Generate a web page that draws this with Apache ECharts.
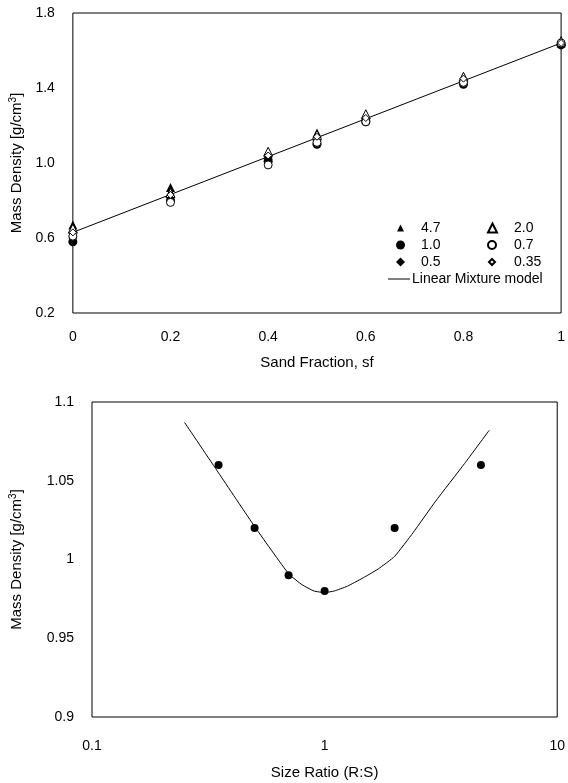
<!DOCTYPE html>
<html><head><meta charset="utf-8">
<script src="https://cdn.jsdelivr.net/npm/echarts@6/dist/echarts.min.js"></script>
<style>html,body{margin:0;padding:0;background:#fff}#c{width:568px;height:783px}</style>
</head><body><div id="c"></div>
<script>
// ---- Top chart data ----
const sandFraction = [0, 0.2, 0.4, 0.5, 0.6, 0.8, 1];
const ratio47  = [0.67, 0.87, 1.05, 1.16, 1.25, 1.44, 1.64];
const ratio10  = [0.58, 0.80, 1.01, 1.10, 1.22, 1.42, 1.63];
const ratio05  = [0.60, 0.82, 1.02, 1.12, 1.23, 1.43, 1.64];
const ratio20  = [0.65, 0.84, 1.06, 1.15, 1.26, 1.46, 1.65];
const ratio07  = [0.61, 0.79, 0.99, 1.11, 1.22, 1.43, 1.64];
const ratio035 = [0.63, 0.83, 1.04, 1.14, 1.24, 1.45, 1.64];
const seriesNames = ['4.7', '1.0', '0.5', '2.0', '0.7', '0.35'];
const modelName = 'Linear Mixture model';
const modelSf = [0, 1];
const modelDensity = [0.63, 1.64];
// ---- Bottom chart data ----
const sizeRatio   = [0.35, 0.5, 0.7, 1.0, 2.0, 4.7];
const sizeDensity = [1.06, 1.02, 0.99, 0.98, 1.02, 1.06];
const curveRatio   = [0.25, 0.35, 0.5, 0.7, 0.8, 0.9, 1.0, 1.1, 1.25, 1.45, 1.7, 2.0, 2.4, 3.0, 4.0, 5.1];
const curveDensity = [1.087, 1.055, 1.021, 0.991, 0.984, 0.980, 0.979, 0.980, 0.983, 0.988, 0.994, 1.002, 1.017, 1.037, 1.061, 1.082];

const FONT = "'Liberation Sans', Arial, sans-serif";
const pair = (xs, ys) => xs.map((x, i) => [x, ys[i]]);
const topData = [ratio47, ratio10, ratio05, ratio20, ratio07, ratio035];
const symbols = ['triangle', 'circle', 'diamond', 'triangle', 'circle', 'diamond'];
const filled = [true, true, true, false, false, false];
const sizes = [9, 9, 9, 9, 8, 7];
const legendSizes = [7, 9, 9, 9, 8, 6];

const chart = echarts.init(document.getElementById('c'));

const series = [];
topData.forEach((d, i) => {
  series.push({
    type: 'scatter', name: seriesNames[i], xAxisIndex: 0, yAxisIndex: 0,
    symbol: symbols[i], symbolSize: sizes[i],
    itemStyle: filled[i] ? { color: '#000', opacity: 1 } : { color: '#fff', borderColor: '#000', borderWidth: 1, opacity: 1 },
    data: pair(sandFraction, d), z: filled[i] ? 3 : 4
  });
});
series.push({
  type: 'line', name: modelName, xAxisIndex: 0, yAxisIndex: 0, symbol: 'none',
  lineStyle: { color: '#000', width: 1 }, data: pair(modelSf, modelDensity), z: 2
});
series.push({
  type: 'line', name: 'curve', xAxisIndex: 1, yAxisIndex: 1, symbol: 'none', smooth: 0.15,
  lineStyle: { color: '#000', width: 1 }, data: pair(curveRatio, curveDensity), z: 2
});
series.push({
  type: 'scatter', name: 'points', xAxisIndex: 1, yAxisIndex: 1, symbol: 'circle', symbolSize: 8,
  itemStyle: { color: '#000', opacity: 1 }, data: pair(sizeRatio, sizeDensity), z: 3
});

// legends
const legendCenters = [[400, 229], [400, 246], [400, 263], [491, 229], [491, 246], [491, 263]];
const legends = seriesNames.map((n, i) => {
  const s = legendSizes[i];
  const cx = legendCenters[i][0], cy = legendCenters[i][1];
  const textX = cx < 450 ? 421 : 513;
  const left = Math.round(cx - s / 2);
  return {
    data: [n], left: left, top: cy - 8,
    itemWidth: s, itemHeight: s, itemGap: 0, padding: 0,
    selectedMode: false,
    textStyle: { fontFamily: FONT, fontSize: 14, color: '#000', padding: [0, 0, 0, textX - (left + s + 5)] }
  };
});
legends.push({
  data: [{ name: modelName, icon: 'rect' }], left: 388, top: 272, itemWidth: 22, itemHeight: 1, padding: 0,
  selectedMode: false, itemStyle: { color: '#000' },
  textStyle: { fontFamily: FONT, fontSize: 14, color: '#000', padding: [0, 0, 0, -3] }
});

const yName = '{a|Mass Density [g/cm}{s|3}{a|]}';
const nameRich = { a: { fontSize: 15, fontFamily: FONT, color: '#000', lineHeight: 18 },
                   s: { fontSize: 10, fontFamily: FONT, color: '#000', verticalAlign: 'top', lineHeight: 18 } };
const lbl = { fontFamily: FONT, fontSize: 14, color: '#000' };

chart.setOption({
  animation: false,
  backgroundColor: '#fff',
  grid: [
    { left: 71, top: 13, width: 494, height: 300, show: true, borderColor: '#000', borderWidth: 1 },
    { left: 92, top: 402, width: 472, height: 315, show: true, borderColor: '#000', borderWidth: 1 }
  ],
  legend: legends,
  xAxis: [
    { type: 'value', gridIndex: 0, min: 0, max: 1, interval: 0.2,
      name: 'Sand Fraction, sf', nameLocation: 'middle', nameGap: 42,
      nameTextStyle: { fontFamily: FONT, fontSize: 15, color: '#000' },
      axisLine: { show: false }, axisTick: { show: false }, splitLine: { show: false },
      axisLabel: Object.assign({ margin: 17, formatter: v => String(parseFloat(v.toFixed(2))) }, lbl) },
    { type: 'log', gridIndex: 1, min: 0.1, max: 10, logBase: 10,
      name: 'Size Ratio (R:S)', nameLocation: 'middle', nameGap: 48,
      nameTextStyle: { fontFamily: FONT, fontSize: 15, color: '#000' },
      axisLine: { show: false }, axisTick: { show: false }, splitLine: { show: false }, minorTick: { show: false },
      axisLabel: Object.assign({ margin: 22, formatter: v => String(parseFloat(v.toFixed(2))) }, lbl) }
  ],
  yAxis: [
    { type: 'value', gridIndex: 0, min: 0.2, max: 1.8, interval: 0.4,
      name: yName, nameLocation: 'middle', nameGap: 46, nameRotate: 90,
      nameTextStyle: { rich: nameRich },
      axisLine: { show: false }, axisTick: { show: false }, splitLine: { show: false },
      axisLabel: Object.assign({ margin: 18, formatter: v => v.toFixed(1) }, lbl) },
    { type: 'value', gridIndex: 1, min: 0.9, max: 1.1, interval: 0.05,
      name: yName, nameLocation: 'middle', nameGap: 66, nameRotate: 90,
      nameTextStyle: { rich: nameRich },
      axisLine: { show: false }, axisTick: { show: false }, splitLine: { show: false },
      axisLabel: Object.assign({ margin: 18, formatter: v => String(parseFloat(v.toFixed(2))) }, lbl) }
  ],
  series: series
});
</script></body></html>
